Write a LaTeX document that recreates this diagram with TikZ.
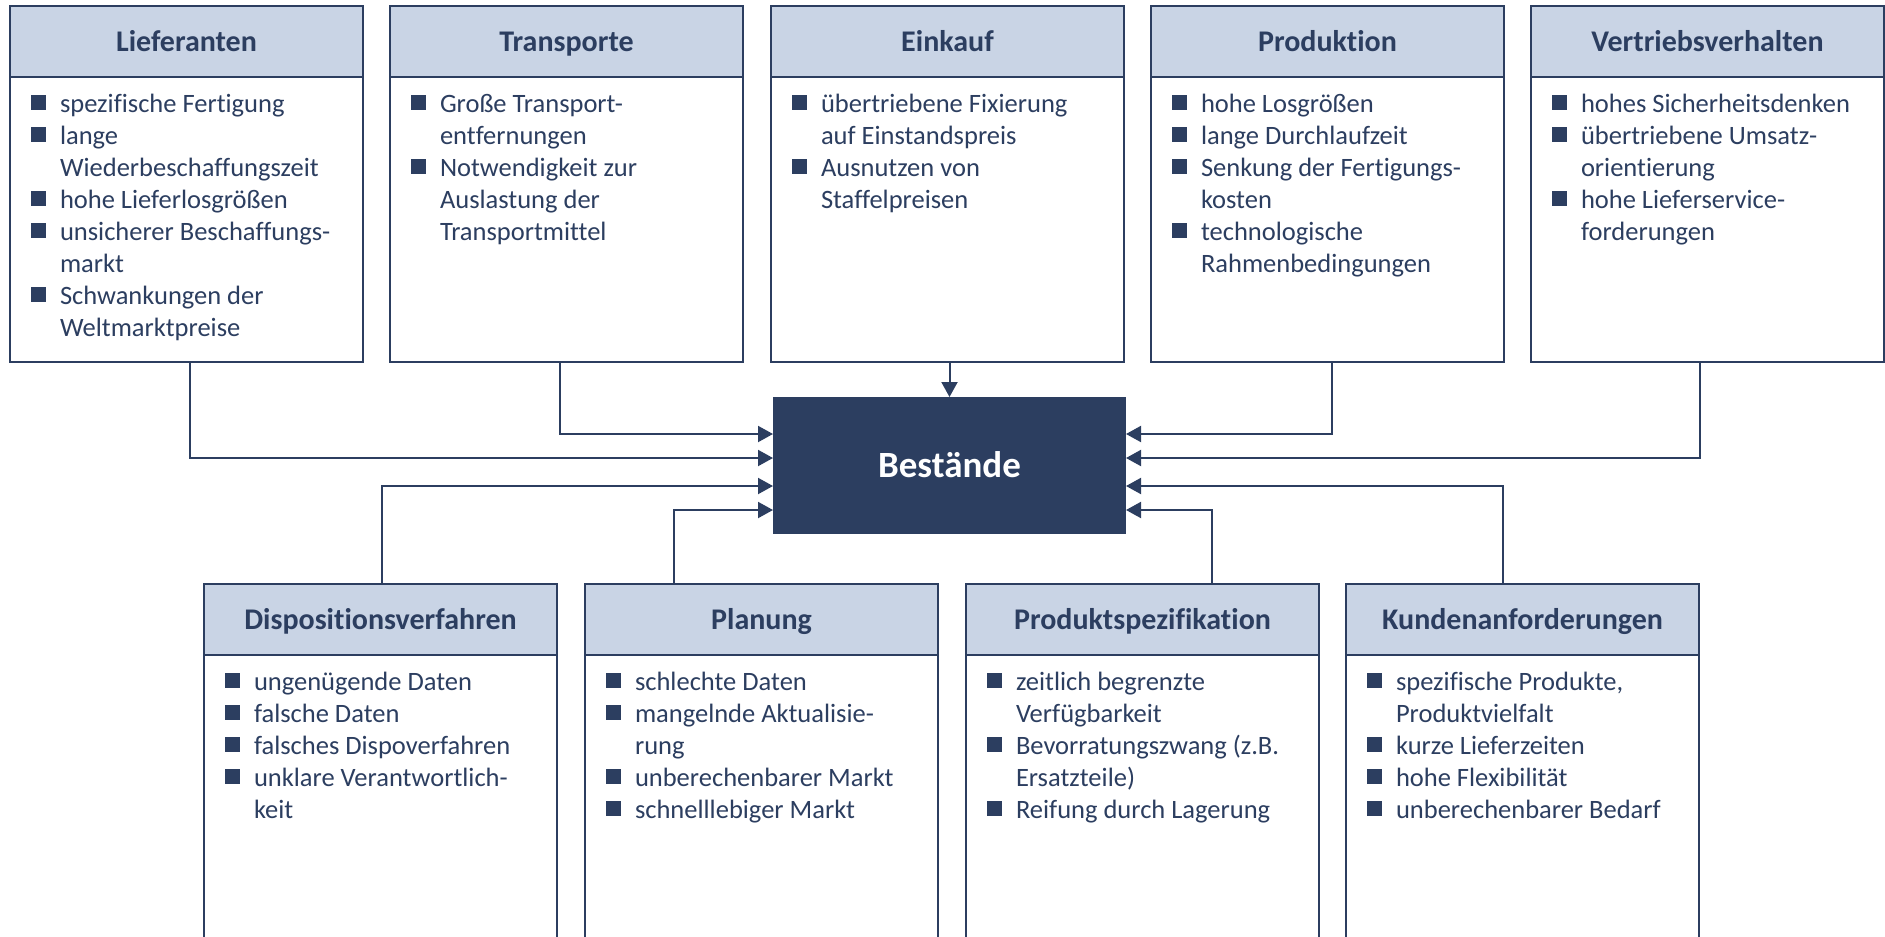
\documentclass[tikz,border=0pt]{standalone}
\usepackage{fontspec}
\setmainfont{Carlito}[Ligatures={NoCommon,NoRare,NoContextual}]
\usetikzlibrary{arrows.meta}

\definecolor{navy}{HTML}{2C3E60}
\definecolor{headfill}{HTML}{C9D4E5}

% bullet square and indentation of continuation lines
\newcommand{\bul}{\makebox[29pt][l]{\rule[2pt]{15pt}{15pt}}}
\newcommand{\cnt}{\hspace*{29pt}}

\tikzset{
  outerbox/.style={draw=navy, line width=2pt, fill=white, minimum width=353pt,
    inner sep=0pt, outer sep=0pt, anchor=north west},
  headbox/.style={draw=navy, line width=2pt, fill=headfill, minimum width=353pt,
    minimum height=71pt, inner sep=0pt, outer sep=0pt, anchor=north west,
    font=\fontsize{30}{34}\selectfont\bfseries, text=navy,
    text height=22pt, text depth=3pt},
  bodytext/.style={anchor=base west, inner sep=0pt, outer sep=0pt,
    font=\fontsize{26.5}{32}\selectfont, text=navy},
  centerbox/.style={fill=navy, minimum width=353pt, minimum height=137pt,
    inner sep=0pt, outer sep=0pt, text=white,
    font=\fontsize{37}{42}\selectfont\bfseries, text height=24pt, text depth=0pt},
  conn/.style={draw=navy, line width=2pt, -{Triangle[length=15pt,width=16pt]}},
}

% box with header and bulleted body: name, x, y, height, title, lines
\newcommand{\causebox}[6]{%
  \node[outerbox, minimum height=#4pt] (#1) at (#2,#3) {};
  \node[headbox] (#1-head) at (#1.north west) {#5};
  \node[bodytext] (#1-body) at ([xshift=21pt,yshift=-106pt]#1.north west)
    {\begin{tabular}[t]{@{}l@{}}#6\end{tabular}};
}

\begin{document}
\begin{tikzpicture}[x=1pt,y=-1pt]
\useasboundingbox (0,0) rectangle (1885,937);
\clip (0,0) rectangle (1885,937);

% upper row
\causebox{lief}{10}{6}{356}{Lieferanten}{%
  \bul spezifische Fertigung\\
  \bul lange\\
  \cnt Wiederbeschaffungszeit\\
  \bul hohe Lieferlosgrößen\\
  \bul unsicherer Beschaffungs-\\
  \cnt markt\\
  \bul Schwankungen der\\
  \cnt Weltmarktpreise}
\causebox{trans}{390}{6}{356}{Transporte}{%
  \bul Große Transport-\\
  \cnt entfernungen\\
  \bul Notwendigkeit zur\\
  \cnt Auslastung der\\
  \cnt Transportmittel}
\causebox{eink}{771}{6}{356}{Einkauf}{%
  \bul übertriebene Fixierung\\
  \cnt auf Einstandspreis\\
  \bul Ausnutzen von\\
  \cnt Staffelpreisen}
\causebox{prod}{1151}{6}{356}{Produktion}{%
  \bul hohe Losgrößen\\
  \bul lange Durchlaufzeit\\
  \bul Senkung der Fertigungs-\\
  \cnt kosten\\
  \bul technologische\\
  \cnt Rahmenbedingungen}
\causebox{vert}{1531}{6}{356}{Vertriebsverhalten}{%
  \bul hohes Sicherheitsdenken\\
  \bul übertriebene Umsatz-\\
  \cnt orientierung\\
  \bul hohe Lieferservice-\\
  \cnt forderungen}

% lower row
\causebox{dispo}{204}{584}{420}{Dispositionsverfahren}{%
  \bul ungenügende Daten\\
  \bul falsche Daten\\
  \bul falsches Dispoverfahren\\
  \bul unklare Verantwortlich-\\
  \cnt keit}
\causebox{plan}{585}{584}{420}{Planung}{%
  \bul schlechte Daten\\
  \bul mangelnde Aktualisie-\\
  \cnt rung\\
  \bul unberechenbarer Markt\\
  \bul schnelllebiger Markt}
\causebox{spez}{966}{584}{420}{Produktspezifikation}{%
  \bul zeitlich begrenzte\\
  \cnt Verfügbarkeit\\
  \bul Bevorratungszwang (z.B.\\
  \cnt Ersatzteile)\\
  \bul Reifung durch Lagerung}
\causebox{kund}{1346}{584}{420}{Kundenanforderungen}{%
  \bul spezifische Produkte,\\
  \cnt Produktvielfalt\\
  \bul kurze Lieferzeiten\\
  \bul hohe Flexibilität\\
  \bul unberechenbarer Bedarf}

% central node
\node[centerbox] (best) at (949.5,465.5) {Bestände};

% connectors from the upper row
\draw[conn] (eink.south -| best.north) -- (best.north);
\draw[conn] ([xshift=3.5pt]lief.south) |- (best.west |- 0,458);
\draw[conn] ([xshift=-6.5pt]trans.south) |- (best.west |- 0,434);
\draw[conn] ([xshift=4.5pt]prod.south) |- (best.east |- 0,434);
\draw[conn] ([xshift=-7.5pt]vert.south) |- (best.east |- 0,458);

% connectors from the lower row
\draw[conn] ([xshift=1pt]dispo.north) |- (best.west |- 0,486);
\draw[conn] ([xshift=-88pt]plan.north) |- (best.west |- 0,510);
\draw[conn] ([xshift=69pt]spez.north) |- (best.east |- 0,510);
\draw[conn] ([xshift=-20pt]kund.north) |- (best.east |- 0,486);
\end{tikzpicture}
\end{document}
